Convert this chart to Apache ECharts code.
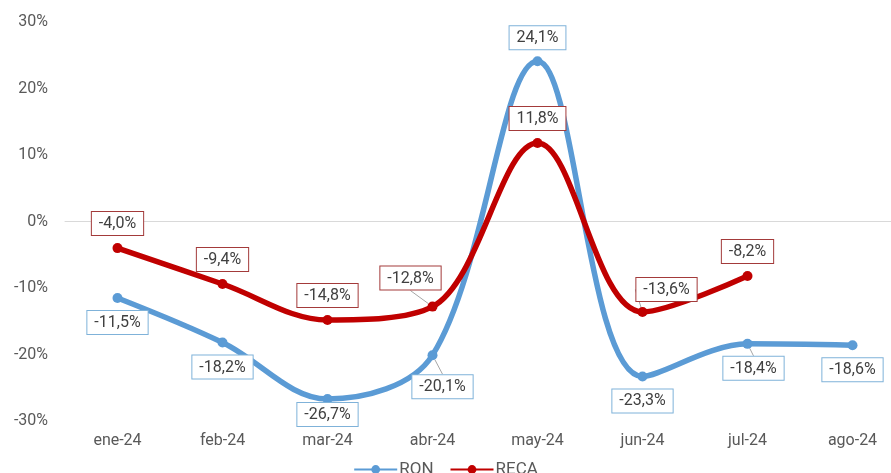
<!DOCTYPE html>
<html>
<head>
<meta charset="utf-8">
<title>RON vs RECA</title>
<script src="https://cdn.jsdelivr.net/npm/echarts@6/dist/echarts.min.js"></script>
<style>
  html, body { margin: 0; padding: 0; background: #fff; }
  #chart { width: 891px; height: 473px; }
</style>
</head>
<body>
<div id="chart"></div>
<script>
// categorias (meses)
var months = ['ene-24', 'feb-24', 'mar-24', 'abr-24', 'may-24', 'jun-24', 'jul-24', 'ago-24']
// variacion % RON
var ronValues = [-11.5, -18.2, -26.7, -20.1, 24.1, -23.3, -18.4, -18.6]
// variacion % RECA (sin dato en agosto)
var recaValues = [-4.0, -9.4, -14.8, -12.8, 11.8, -13.6, -8.2, null]
// ticks eje Y
var yTicks = [-30, -20, -10, 0, 10, 20, 30]

// ajustes de etiqueta por punto (desplazamiento en px, linea guia)
var ronLabelMove = { 2: [0, -9, false], 3: [10, 7, true], 4: [0, -48, false], 6: [6, 0, true] }
var recaLabelMove = { 3: [-22, -4, true], 5: [24, 2, true] }

var chart = echarts.init(document.getElementById('chart'))

function fmt(v) {
  return v.toFixed(1).replace('.', ',') + '%'
}

function labelBox(border, pos) {
  return {
    show: true,
    position: pos,
    formatter: function (p) { return fmt(p.value) },
    color: '#404040',
    fontFamily: 'Roboto',
    fontSize: 16,
    backgroundColor: '#fff',
    borderColor: border,
    borderWidth: 1,
    padding: [4, 7, 3, 7],
    distance: 8
  }
}

// guia solo en los puntos que la tienen en el original
function buildData(values, moves) {
  return values.map(function (v, i) {
    var m = moves[i]
    return {
      value: v,
      labelLine: { show: !!(m && m[2]) }
    }
  })
}

function layoutFor(moves) {
  return function (params) {
    var m = moves[params.dataIndex]
    if (!m) return {}
    return { dx: m[0], dy: m[1] }
  }
}

chart.setOption({
  animation: false,
  textStyle: { fontFamily: 'Roboto' },
  grid: { left: 65, right: -14, top: 22, bottom: 52, outerBoundsMode: 'none' },
  legend: {
    top: 456,
    left: 'center',
    itemWidth: 43,
    itemHeight: 11,
    itemGap: 16,
    textStyle: { color: '#595959', fontSize: 17, padding: [0, 0, 0, -3] },
    data: ['RON', 'RECA']
  },
  xAxis: {
    type: 'category',
    data: months,
    axisLine: { lineStyle: { color: '#d9d9d9', width: 1 } },
    axisTick: { show: false },
    axisLabel: { color: '#595959', fontSize: 16, margin: 12 }
  },
  yAxis: {
    type: 'value',
    min: yTicks[0],
    max: yTicks[yTicks.length - 1],
    interval: 10,
    splitLine: { show: false },
    axisLine: { show: false },
    axisTick: { show: false },
    axisLabel: {
      color: '#595959',
      fontSize: 16,
      margin: 17,
      formatter: function (v) { return v + '%' }
    }
  },
  series: [
    {
      name: 'RON',
      type: 'line',
      smooth: 0.35,
      data: buildData(ronValues, ronLabelMove),
      symbol: 'circle',
      symbolSize: 10,
      lineStyle: { color: '#5b9bd5', width: 5.5 },
      itemStyle: { color: '#5b9bd5' },
      label: labelBox('#7fb2d9', 'bottom'),
      labelLine: { lineStyle: { color: '#a6a6a6', width: 1 } },
      labelLayout: layoutFor(ronLabelMove)
    },
    {
      name: 'RECA',
      type: 'line',
      smooth: 0.35,
      data: buildData(recaValues, recaLabelMove),
      symbol: 'circle',
      symbolSize: 10,
      lineStyle: { color: '#c00000', width: 5.5 },
      itemStyle: { color: '#c00000' },
      label: labelBox('#a33a3a', 'top'),
      labelLine: { lineStyle: { color: '#a6a6a6', width: 1 } },
      labelLayout: layoutFor(recaLabelMove)
    }
  ]
})
</script>
</body>
</html>
